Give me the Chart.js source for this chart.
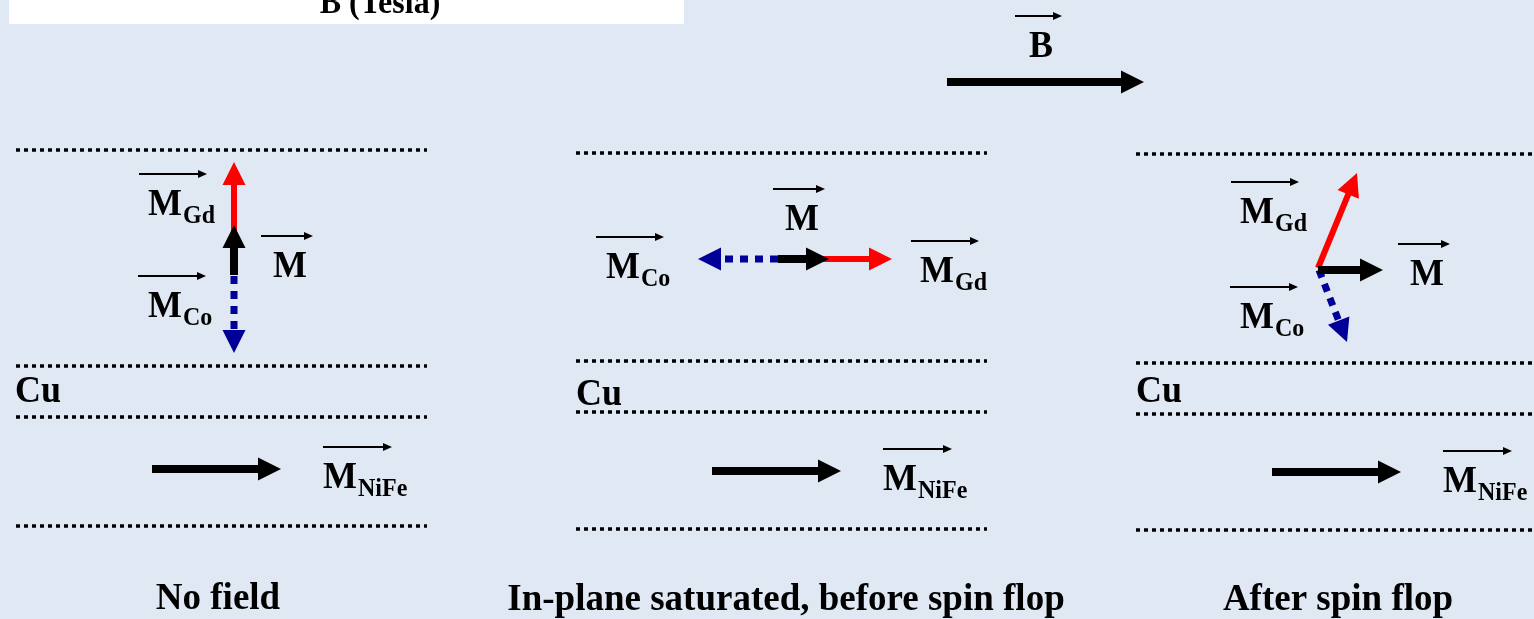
<!DOCTYPE html>
<html>
<head>
<meta charset="utf-8">
<script src="https://cdn.jsdelivr.net/npm/chart.js@4.4.1/dist/chart.umd.min.js"></script>
<style>
html, body { margin: 0; padding: 0; background: #dfe8f3; }
#wrap { width: 1534px; height: 619px; }
</style>
</head>
<body>
<div id="wrap"><canvas id="diagram" width="1534" height="619"></canvas></div>
<script>
// panels, left to right
const panelTitles = ["No field", "In-plane saturated, before spin flop", "After spin flop"];
const titleX = [218, 786, 1338];
const titleY = [609, 610, 610];

// dotted layer boundaries: x span of each panel, y of each boundary
const layerSpan = [[16, 427], [576, 987], [1136, 1534]];
const layerY = [[150, 366, 417, 526], [153, 361, 412, 529], [154, 363, 414, 530]];

// vectors [x0, y0, x1, y1], tail -> tip
const vecGd = [[234, 273, 234, 162], [778, 259, 892, 259], [1318, 268, 1357, 173]];
const vecCo = [[234, 276, 234, 353], [778, 259, 698, 259], [1319, 270, 1347, 342]];
const vecM = [[234, 275, 234, 225], [778, 259, 829, 259], [1318, 270, 1383, 270]];
const vecNiFe = [[152, 469, 281, 469], [712, 471, 841, 471], [1272, 472, 1401, 472]];
const vecB = [947, 82, 1144, 82];

// label anchors [x, baseline]
const labelGd = [[148, 215], [920, 282], [1240, 223]];
const labelCo = [[148, 317], [606, 278], [1240, 328]];
const labelM = [[273, 277], [785, 230], [1410, 285]];
const labelNiFe = [[323, 488], [883, 490], [1443, 492]];
const labelCu = [[15, 402], [576, 405], [1136, 402]];
const labelB = [1029, 57];
const prevAxisTitle = "B (Tesla)";

const BG = "#dfe8f3";
const RED = "#ff0000";
const NAVY = "#000099";
const SERIF = "'Liberation Serif', 'Times New Roman', serif";
const STRETCH = 1.05; // glyphs in the original are a little taller than wide

function drawArrow(ctx, x0, y0, x1, y1, color, width, dash, headLen, headHalf) {
    const dx = x1 - x0, dy = y1 - y0;
    const len = Math.hypot(dx, dy);
    const ux = dx / len, uy = dy / len;
    const bx = x1 - ux * headLen, by = y1 - uy * headLen;
    ctx.save();
    ctx.strokeStyle = color;
    ctx.fillStyle = color;
    ctx.lineWidth = width;
    ctx.lineCap = "butt";
    ctx.setLineDash(dash || []);
    ctx.beginPath();
    ctx.moveTo(x0, y0);
    ctx.lineTo(bx + ux, by + uy);
    ctx.stroke();
    ctx.setLineDash([]);
    ctx.beginPath();
    ctx.moveTo(x1, y1);
    ctx.lineTo(bx - uy * headHalf, by + ux * headHalf);
    ctx.lineTo(bx + uy * headHalf, by - ux * headHalf);
    ctx.closePath();
    ctx.fill();
    ctx.restore();
}

function text(ctx, str, x, y, font, align) {
    ctx.save();
    ctx.fillStyle = "#000";
    ctx.font = font;
    ctx.textAlign = align || "left";
    ctx.textBaseline = "alphabetic";
    ctx.translate(x, y);
    ctx.scale(1, STRETCH);
    ctx.fillText(str, 0, 0);
    const w = ctx.measureText(str).width;
    ctx.restore();
    return w;
}

// vector symbol: M (or B) with optional subscript and a small arrow above
function drawVecLabel(ctx, x, y, main, sub, barFrom, barTo) {
    const w = text(ctx, main, x, y, "bold 36px " + SERIF);
    if (sub) text(ctx, sub, x + w + 1, y + 8, "bold 24px " + SERIF);
    drawArrow(ctx, x + barFrom, y - 41, x + barTo, y - 41, "#000", 2, null, 9, 4);
}

const diagramPlugin = {
    id: "diagram",
    beforeDraw(chart) {
        const ctx = chart.ctx;
        const sx = chart.scales.x, sy = chart.scales.y;
        ctx.save();
        ctx.fillStyle = BG;
        ctx.fillRect(0, 0, chart.width, chart.height);
        // bottom of the previous figure, cut off at the top edge
        ctx.fillStyle = "#fff";
        ctx.fillRect(sx.getPixelForValue(9), sy.getPixelForValue(0),
            sx.getPixelForValue(684) - sx.getPixelForValue(9), sy.getPixelForValue(24) - sy.getPixelForValue(0));
        ctx.restore();
        text(ctx, prevAxisTitle, sx.getPixelForValue(380), sy.getPixelForValue(13), "bold 32px " + SERIF, "center");
    },
    afterDatasetsDraw(chart) {
        const ctx = chart.ctx;
        const sx = chart.scales.x, sy = chart.scales.y;
        const px = v => sx.getPixelForValue(v);
        const py = v => sy.getPixelForValue(v);
        const vec = (v, color, width, dash) =>
            drawArrow(ctx, px(v[0]), py(v[1]), px(v[2]), py(v[3]), color, width, dash, 23, 11.5);

        for (let i = 0; i < 3; i++) {
            vec(vecGd[i], RED, 6);
            vec(vecCo[i], NAVY, 7, [8, 7]);
            vec(vecM[i], "#000", 8);
            vec(vecNiFe[i], "#000", 8);

            drawVecLabel(ctx, px(labelGd[i][0]), py(labelGd[i][1]), "M", "Gd", -9, 59);
            drawVecLabel(ctx, px(labelCo[i][0]), py(labelCo[i][1]), "M", "Co", -10, 58);
            drawVecLabel(ctx, px(labelM[i][0]), py(labelM[i][1]), "M", null, -12, 40);
            drawVecLabel(ctx, px(labelNiFe[i][0]), py(labelNiFe[i][1]), "M", "NiFe", 0, 69);

            text(ctx, "Cu", px(labelCu[i][0]), py(labelCu[i][1]), "bold 36px " + SERIF);
            text(ctx, panelTitles[i], px(titleX[i]), py(titleY[i]), "bold 37px " + SERIF, "center");
        }

        vec(vecB, "#000", 8);
        drawVecLabel(ctx, px(labelB[0]), py(labelB[1]), "B", null, -14, 33);
    }
};

const datasets = [];
layerY.forEach((ys, i) => {
    ys.forEach(y => {
        datasets.push({
            data: [{ x: layerSpan[i][0], y: y }, { x: layerSpan[i][1], y: y }],
            showLine: true,
            borderColor: "#000",
            borderWidth: 3.5,
            borderDash: [4, 4],
            pointRadius: 0,
            fill: false
        });
    });
});

new Chart(document.getElementById("diagram"), {
    type: "scatter",
    data: { datasets: datasets },
    options: {
        responsive: false,
        animation: false,
        devicePixelRatio: 1,
        layout: { padding: 0 },
        plugins: { legend: { display: false }, tooltip: { enabled: false } },
        scales: {
            x: { type: "linear", min: 0, max: 1534, display: false },
            y: { type: "linear", min: 0, max: 619, reverse: true, display: false }
        }
    },
    plugins: [diagramPlugin]
});
</script>
</body>
</html>
